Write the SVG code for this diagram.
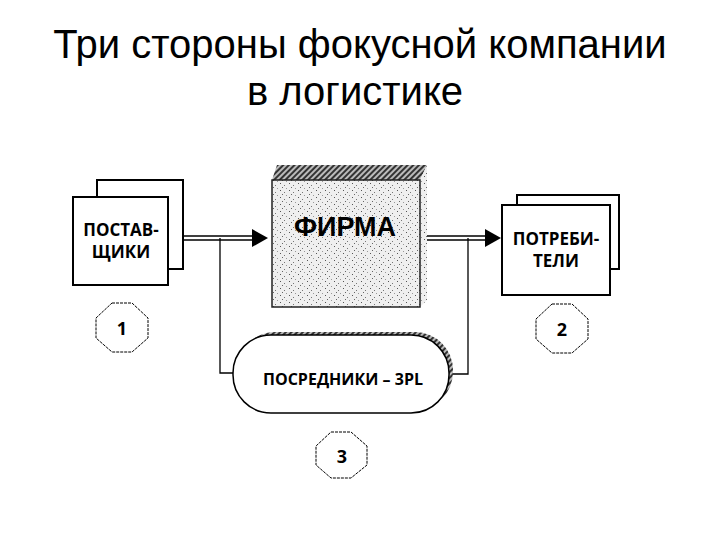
<svg xmlns="http://www.w3.org/2000/svg" width="720" height="540" viewBox="0 0 720 540">
<defs>
<style>
.title{font-family:"Liberation Sans",Arial,sans-serif;font-size:40px;fill:#000}
.lbl{font-family:"Open Sans","Liberation Sans",sans-serif;font-weight:bold;font-size:17px;fill:#000}
.lbl2{font-family:"Open Sans","Liberation Sans",sans-serif;font-weight:bold;font-size:16px;fill:#000}
.box{fill:#fff;stroke:#000;stroke-width:2}
.oct{fill:#fff;stroke:#000;stroke-width:1;stroke-dasharray:3 1}
.ln{fill:none;stroke:#000;stroke-width:1.3}
.num{font-family:"Open Sans","Liberation Sans",sans-serif;font-weight:bold;font-size:18px;fill:#000}
</style>
<pattern id="speck" width="9" height="7" patternUnits="userSpaceOnUse">
<rect width="9" height="7" fill="#efefef"/>
<rect x="1" y="1" width="1" height="1" fill="#555"/>
<rect x="5" y="3" width="1" height="1" fill="#777"/>
<rect x="3" y="5" width="1" height="1" fill="#666"/>
<rect x="7" y="6" width="1" height="1" fill="#999"/>
</pattern>
<pattern id="hatch" width="4" height="4" patternUnits="userSpaceOnUse" patternTransform="rotate(45)">
<rect width="4" height="4" fill="#bbb"/>
<rect width="2" height="4" fill="#333"/>
</pattern>
</defs>
<text class="title" x="360" y="58" text-anchor="middle">Три стороны фокусной компании</text>
<text class="title" x="355" y="105" text-anchor="middle">в логистике</text>

<g id="connectors">
<path class="ln" d="M183 236H254M183 240H254"/>
<polygon points="252,229 268,238 252,247" fill="#000"/>
<path class="ln" d="M220 238V373H234"/>
<path class="ln" d="M420 236H487M420 240H487"/>
<polygon points="485,229 501,238 485,247" fill="#000"/>
<path class="ln" d="M468 238V374H452"/>
</g>

<g id="suppliers">
<rect class="box" x="97" y="180" width="86" height="89"/>
<rect class="box" x="73" y="197" width="95" height="88"/>
<text class="lbl" x="121" y="236" text-anchor="middle">ПОСТАВ-</text>
<text class="lbl" x="121" y="258" text-anchor="middle">ЩИКИ</text>
</g>

<g id="firm">
<polygon points="272,180 277,165 427,165 420,180" fill="url(#hatch)"/>
<polygon points="420,180 427,165 427,300 420,307" fill="url(#speck)"/>
<rect x="272" y="180" width="148" height="127" fill="url(#speck)" stroke="#222" stroke-width="1.5"/>
<text x="345" y="236" text-anchor="middle" font-family="Liberation Sans,Arial,sans-serif" font-weight="bold" font-size="27">ФИРМА</text>
</g>

<g id="consumers">
<rect class="box" x="517" y="195" width="102" height="74"/>
<rect class="box" x="502" y="205" width="108" height="90"/>
<text class="lbl" x="556" y="245" text-anchor="middle">ПОТРЕБИ-</text>
<text class="lbl" x="556" y="267" text-anchor="middle">ТЕЛИ</text>
</g>

<g id="intermediaries">
<rect x="237" y="332" width="216" height="78" rx="38" fill="url(#hatch)"/>
<rect x="233" y="335" width="216" height="78" rx="38" fill="#fff" stroke="#000" stroke-width="1.5"/>
<text class="lbl2" x="343" y="385" text-anchor="middle">ПОСРЕДНИКИ – 3PL</text>
</g>

<g id="n1">
<polygon class="oct" points="112,303 132,303 148,318 148,338 132,352 112,352 96,338 96,318"/>
<text class="num" x="122" y="335" text-anchor="middle">1</text>
</g>
<g id="n2">
<polygon class="oct" points="552,304 572,304 588,319 588,339 572,353 552,353 536,339 536,319"/>
<text class="num" x="562" y="336" text-anchor="middle">2</text>
</g>
<g id="n3">
<polygon class="oct" points="331,432 351,432 367,446 367,465 351,478 331,478 316,465 316,446"/>
<text class="num" x="342" y="463" text-anchor="middle">3</text>
</g>
</svg>
